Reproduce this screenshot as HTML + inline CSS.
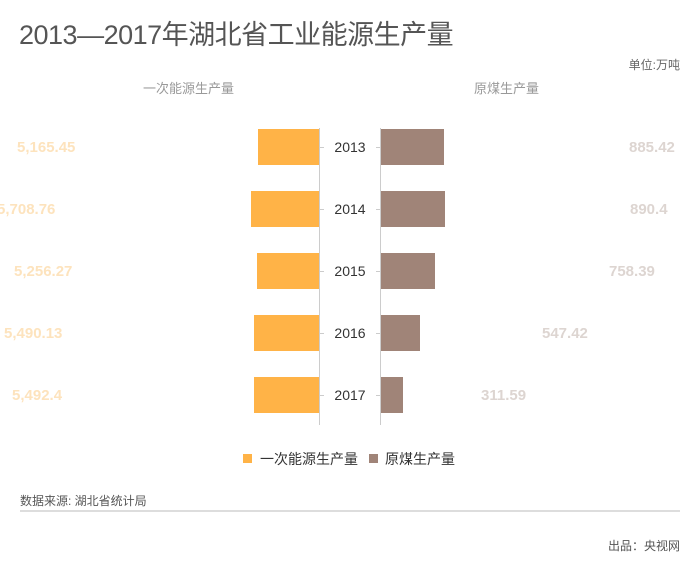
<!DOCTYPE html>
<html><head><meta charset="utf-8"><style>
body{margin:0;width:700px;height:576px;background:#fff;overflow:hidden;position:relative;font-family:"Liberation Sans","Noto Sans CJK SC",sans-serif}
.a{position:absolute;white-space:nowrap}
.bar{position:absolute;height:36px}
.o{background:#ffb347}.b{background:#a08478}
.lv{position:absolute;font-weight:bold;font-size:15px;color:#fde3bd;line-height:20px}
.rv{position:absolute;font-weight:bold;font-size:15px;color:#ddd5d1;line-height:20px}
.yr{position:absolute;left:320px;width:60px;text-align:center;font-size:14px;color:#333;line-height:20px}
.tk{position:absolute;height:1px;width:4px;background:#ccc}
</style></head><body>
<div class="a" style="left:19px;top:17px;font-size:27px;color:#555;line-height:36px;letter-spacing:-0.5px">2013—2017年湖北省工业能源生产量</div>
<div class="a" style="right:20px;top:56px;font-size:12px;color:#666">单位:万吨</div>
<div class="a" style="left:143px;top:78px;font-size:13px;color:#999">一次能源生产量</div>
<div class="a" style="left:474px;top:78px;font-size:13px;color:#999">原煤生产量</div>
<div class="a" style="left:319px;top:128px;width:1px;height:297px;background:#ccc"></div>
<div class="a" style="left:380px;top:128px;width:1px;height:297px;background:#ccc"></div>

<div class="bar o" style="left:258px;width:61px;top:129px"></div>
<div class="bar o" style="left:251px;width:68px;top:191px"></div>
<div class="bar o" style="left:257px;width:62px;top:253px"></div>
<div class="bar o" style="left:254px;width:65px;top:315px"></div>
<div class="bar o" style="left:254px;width:65px;top:377px"></div>

<div class="bar b" style="left:381px;width:63px;top:129px"></div>
<div class="bar b" style="left:381px;width:64px;top:191px"></div>
<div class="bar b" style="left:381px;width:54px;top:253px"></div>
<div class="bar b" style="left:381px;width:39px;top:315px"></div>
<div class="bar b" style="left:381px;width:22px;top:377px"></div>

<div class="tk" style="left:320px;top:147px"></div><div class="tk" style="left:376px;top:147px"></div>
<div class="tk" style="left:320px;top:209px"></div><div class="tk" style="left:376px;top:209px"></div>
<div class="tk" style="left:320px;top:271px"></div><div class="tk" style="left:376px;top:271px"></div>
<div class="tk" style="left:320px;top:333px"></div><div class="tk" style="left:376px;top:333px"></div>
<div class="tk" style="left:320px;top:395px"></div><div class="tk" style="left:376px;top:395px"></div>

<div class="yr" style="top:137px">2013</div>
<div class="yr" style="top:199px">2014</div>
<div class="yr" style="top:261px">2015</div>
<div class="yr" style="top:323px">2016</div>
<div class="yr" style="top:385px">2017</div>

<div class="lv" style="left:17px;top:138px">5,165.45</div>
<div class="lv" style="left:-3px;top:200px">5,708.76</div>
<div class="lv" style="left:14px;top:262px">5,256.27</div>
<div class="lv" style="left:4px;top:324px">5,490.13</div>
<div class="lv" style="left:12px;top:386px">5,492.4</div>

<div class="rv" style="left:629px;top:138px">885.42</div>
<div class="rv" style="left:630px;top:200px">890.4</div>
<div class="rv" style="left:609px;top:262px">758.39</div>
<div class="rv" style="left:542px;top:324px">547.42</div>
<div class="rv" style="left:481px;top:386px">311.59</div>

<div class="a" style="left:243px;top:454px;width:9px;height:9px;background:#ffb347"></div>
<div class="a" style="left:260px;top:449px;font-size:14px;color:#333">一次能源生产量</div>
<div class="a" style="left:369px;top:454px;width:9px;height:9px;background:#a08478"></div>
<div class="a" style="left:385px;top:449px;font-size:14px;color:#333">原煤生产量</div>

<div class="a" style="left:20px;top:492px;font-size:12px;color:#555">数据来源: 湖北省统计局</div>
<div class="a" style="left:20px;top:510px;width:660px;height:2px;background:#ddd"></div>
<div class="a" style="right:20px;top:537px;font-size:12px;color:#555">出品：央视网</div>
</body></html>
